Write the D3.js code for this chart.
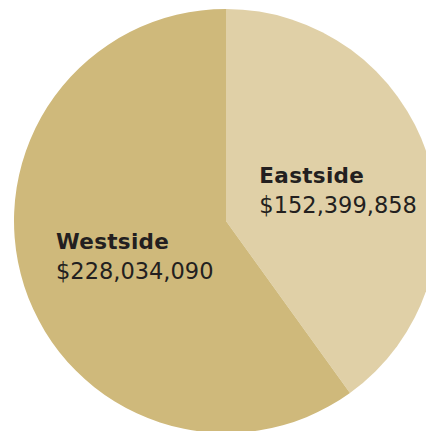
<!DOCTYPE html>
<html>
<head>
<meta charset="utf-8">
<script src="https://cdn.jsdelivr.net/npm/d3@7/dist/d3.min.js"></script>
<style>
  html, body { margin: 0; padding: 0; background: #ffffff; }
  svg { display: block; }
  text { font-family: "DejaVu Sans", "Liberation Sans", Arial, sans-serif; fill: #231f20; }
</style>
</head>
<body>
<svg id="chart" width="426" height="431"></svg>
<script>
// Regional totals
const regions = ["Eastside", "Westside"];
const amounts = [152399858, 228034090];
const sliceColors = ["#e0d0a7", "#cfb97b"];

const width = 426, height = 431;
const radius = 212;
const cx = 226, cy = 221;

const svg = d3.select("#chart");
const g = svg.append("g").attr("transform", `translate(${cx},${cy})`);

const rows = regions.map((name, i) => ({ name, value: amounts[i], color: sliceColors[i] }));

const pie = d3.pie().sort(null).value(d => d.value);
const arcs = pie(rows);

const arc = d3.arc().innerRadius(0).outerRadius(radius);

g.selectAll("path.slice")
  .data(arcs)
  .join("path")
  .attr("class", "slice")
  .attr("d", arc)
  .attr("fill", d => d.data.color);

// label anchors: centroid of each slice at a fraction of the radius
const labelFrac = [0.557, 0.451];
const fmt = d3.format("$,");

arcs.forEach((a, i) => {
  const la = d3.arc().innerRadius(0).outerRadius(radius * labelFrac[i] * 2);
  const [x, y] = la.centroid(a);
  const lg = g.append("g").attr("transform", `translate(${x - 79},${y})`);
  lg.append("text")
    .attr("x", 0).attr("y", -1.5)
    .style("font-size", "21.5px")
    .style("font-weight", "bold")
    .style("letter-spacing", "0.3px")
    .text(a.data.name);
  lg.append("text")
    .attr("x", 0).attr("y", 28.5)
    .style("font-size", "22.5px")
    .text(fmt(a.data.value));
});
</script>
</body>
</html>
